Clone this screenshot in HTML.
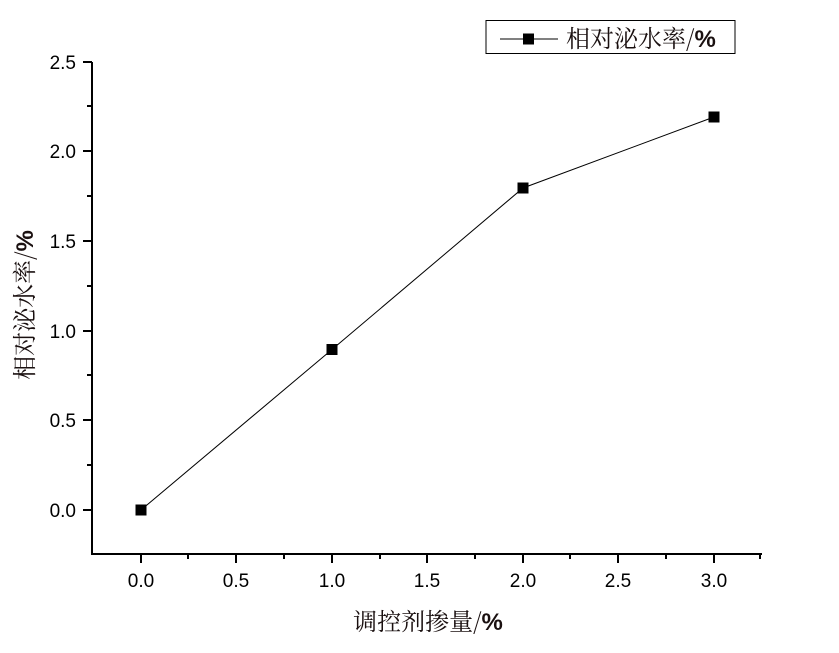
<!DOCTYPE html>
<html><head><meta charset="utf-8"><style>body{margin:0;background:#fff}svg{display:block}</style></head>
<body>
<svg width="839" height="653" xmlns="http://www.w3.org/2000/svg" font-family="Liberation Sans, sans-serif">
<rect width="839" height="653" fill="#fff"/>
<g stroke="#000" stroke-width="2" fill="none">
<line x1="92" y1="62" x2="92" y2="555"/>
<line x1="91" y1="554" x2="762" y2="554"/>
<path d="M83 510H92M83 420H92M83 331H92M83 241H92M83 151H92M83 62H92"/>
<path d="M87 465H92M87 375H92M87 286H92M87 196H92M87 106H92"/>
<path d="M141 554V563M236 554V563M332 554V563M427 554V563M523 554V563M618 554V563M714 554V563"/>
<path d="M188 554V559M284 554V559M380 554V559M475 554V559M570 554V559M666 554V559M760 554V559"/>
</g>
<g font-size="19" fill="#000" text-anchor="end">
<text x="76" y="517">0.0</text><text x="76" y="427">0.5</text><text x="76" y="338">1.0</text>
<text x="76" y="248">1.5</text><text x="76" y="158">2.0</text><text x="76" y="69">2.5</text>
</g>
<g font-size="19" fill="#000" text-anchor="middle">
<text x="141" y="587">0.0</text><text x="236" y="587">0.5</text><text x="332" y="587">1.0</text>
<text x="427" y="587">1.5</text><text x="523" y="587">2.0</text><text x="618" y="587">2.5</text><text x="714" y="587">3.0</text>
</g>
<polyline points="141,510 332,349.5 523,188 714,117" fill="none" stroke="#000" stroke-width="1"/>
<g fill="#000">
<rect x="135.5" y="504.5" width="11" height="11"/><rect x="326.5" y="344" width="11" height="11"/>
<rect x="517.5" y="182.5" width="11" height="11"/><rect x="708.5" y="111.5" width="11" height="11"/>
</g>
<text x="428" y="630" font-size="24" text-anchor="middle" fill="#1a1010" font-family="Noto Serif CJK SC, serif">调控剂掺量/<tspan font-family="Liberation Sans, sans-serif" font-weight="bold">%</tspan></text>
<text transform="translate(33,305) rotate(-90)" font-size="24" text-anchor="middle" fill="#1a1010" font-family="Noto Serif CJK SC, serif">相对泌水率/<tspan font-family="Liberation Sans, sans-serif" font-weight="bold">%</tspan></text>
<rect x="486" y="20.5" width="249" height="33" fill="#fff" stroke="#000" stroke-width="1"/>
<line x1="500" y1="39" x2="558" y2="39" stroke="#000" stroke-width="1"/>
<rect x="523" y="33.5" width="11" height="11" fill="#000"/>
<text x="566" y="47" font-size="24" fill="#1a1010" font-family="Noto Serif CJK SC, serif">相对泌水率/<tspan font-family="Liberation Sans, sans-serif" font-weight="bold">%</tspan></text>
</svg>
</body></html>
